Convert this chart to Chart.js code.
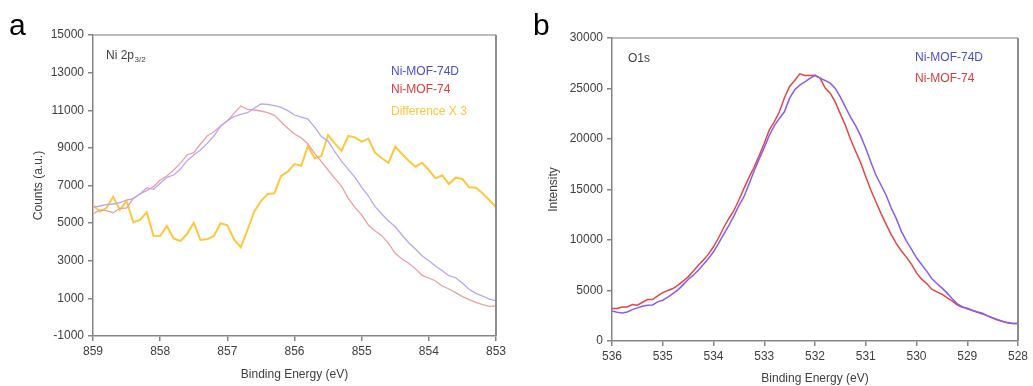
<!DOCTYPE html>
<html>
<head>
<meta charset="utf-8">
<script src="https://cdn.jsdelivr.net/npm/chart.js@4"></script>
<style>
  html, body { margin: 0; padding: 0; background: #fff; }
  #wrap { position: relative; width: 1033px; height: 386px; overflow: hidden; }
  canvas { position: absolute; top: 0; }
  #chartA { left: 0; }
  #chartB { left: 515px; }
</style>
</head>
<body>
<div id="wrap">
  <canvas id="chartA" width="515" height="386"></canvas>
  <canvas id="chartB" width="518" height="386"></canvas>
</div>
<script>
// ---- panel a: Ni 2p3/2 ----
const niEnergy = [
  859.0, 858.9, 858.8, 858.7, 858.6, 858.5, 858.4, 858.3, 858.2, 858.1,
  858.0, 857.9, 857.8, 857.7, 857.6, 857.5, 857.4, 857.3, 857.2, 857.1,
  857.0, 856.9, 856.8, 856.7, 856.6, 856.5, 856.4, 856.3, 856.2, 856.1,
  856.0, 855.9, 855.8, 855.7, 855.6, 855.5, 855.4, 855.3, 855.2, 855.1,
  855.0, 854.9, 854.8, 854.7, 854.6, 854.5, 854.4, 854.3, 854.2, 854.1,
  854.0, 853.9, 853.8, 853.7, 853.6, 853.5, 853.4, 853.3, 853.2, 853.1,
  853.0
];
const niMof74D = [
  5840, 5910, 5980, 6016, 6087, 6229, 6300, 6548, 6885, 6797,
  7116, 7435, 7557, 7860, 8320, 8621, 8887, 9241, 9631, 10162,
  10445, 10658, 10782, 10870, 11103, 11332, 11315, 11244, 11155, 10977,
  10747, 10640, 10530, 10100, 9600, 9350, 8800, 8300, 7860, 7435,
  6903, 6441, 5873, 5484, 5112, 4809, 4368, 3959, 3624, 3268,
  3002, 2720, 2470, 2204, 2098, 1800, 1481, 1268, 1125, 966,
  876
];
const niMof74 = [
  5484, 5697, 5660, 5554, 5787, 5803, 6319, 6548, 6725, 6938,
  7292, 7505, 7823, 8178, 8621, 8745, 9206, 9631, 9861, 10162,
  10445, 10835, 11226, 11050, 11013, 10960, 10870, 10731, 10391, 10040,
  9737, 9541, 9206, 8711, 8266, 7823, 7380, 6973, 6319, 5840,
  5431, 4900, 4581, 4332, 3927, 3395, 3092, 2863, 2580, 2225,
  2082, 1923, 1657, 1497, 1303, 1090, 930, 790, 665, 577,
  594
];
const niDiffX3 = [
  5950, 5620, 5800, 6400, 5700, 6190, 5043, 5166, 5574, 4331,
  4315, 4847, 4190, 4049, 4421, 5022, 4102, 4138, 4315, 4990,
  4883, 4138, 3713, 4634, 5607, 6176, 6548, 6585, 7505, 7735,
  8142, 8050, 9099, 8445, 8567, 9684, 9241, 8833, 9631, 9560,
  9329, 9488, 8745, 8445, 8211, 9063, 8674, 8320, 8000, 8211,
  7823, 7380, 7540, 7079, 7415, 7345, 6903, 6885, 6584, 6229,
  5840
];

// ---- panel b: O1s ----
const oEnergy = [
  536.0, 535.9, 535.8, 535.7, 535.6, 535.5, 535.4, 535.3, 535.2, 535.1,
  535.0, 534.9, 534.8, 534.7, 534.6, 534.5, 534.4, 534.3, 534.2, 534.1,
  534.0, 533.9, 533.8, 533.7, 533.6, 533.5, 533.4, 533.3, 533.2, 533.1,
  533.0, 532.9, 532.8, 532.7, 532.6, 532.5, 532.4, 532.3, 532.2, 532.1,
  532.0, 531.9, 531.8, 531.7, 531.6, 531.5, 531.4, 531.3, 531.2, 531.1,
  531.0, 530.9, 530.8, 530.7, 530.6, 530.5, 530.4, 530.3, 530.2, 530.1,
  530.0, 529.9, 529.8, 529.7, 529.6, 529.5, 529.4, 529.3, 529.2, 529.1,
  529.0, 528.9, 528.8, 528.7, 528.6, 528.5, 528.4, 528.3, 528.2, 528.1,
  528.0
];
const oMof74D = [
  2978, 2846, 2780, 2879, 3111, 3276, 3441, 3540, 3573, 3871,
  4037, 4334, 4698, 5061, 5558, 6087, 6517, 7013, 7575, 8170,
  8832, 9659, 10551, 11411, 12370, 13395, 14288, 15545, 16835, 18025,
  19150, 20373, 21332, 22060, 22721, 24044, 24871, 25334, 25664, 25995,
  26293, 26028, 25797, 25532, 25003, 24143, 23151, 22159, 21332, 20307,
  19083, 17727, 16438, 15446, 14454, 13197, 12139, 10882, 9923, 9096,
  8236, 7575, 6914, 6186, 5690, 5260, 4764, 4202, 3706, 3408,
  3176, 3011, 2879, 2747, 2483, 2284, 2119, 1953, 1821, 1722,
  1722
];
const oMof74 = [
  3210, 3210, 3375, 3375, 3606, 3540, 3838, 4102, 4102, 4466,
  4797, 4995, 5194, 5525, 5922, 6352, 6914, 7509, 8005, 8600,
  9328, 10221, 11213, 12106, 12899, 13958, 15115, 16206, 17198, 18356,
  19580, 20902, 21729, 22721, 24110, 25201, 25797, 26458, 26293, 26293,
  26300, 26028, 25036, 24540, 23647, 22490, 21332, 19976, 18786, 17661,
  16273, 14950, 13792, 12635, 11577, 10551, 9659, 8931, 8303, 7608,
  6748, 6120, 5690, 5128, 4863, 4632, 4301, 3971, 3574, 3342,
  3243, 3045, 2846, 2681, 2483, 2284, 2086, 1920, 1788, 1722,
  1722
];

const FONT = "'Liberation Sans', Arial, sans-serif";
const TEXT = '#404040';
const AXIS = '#858585';

const pts = (xs, ys) => xs.map((x, i) => ({ x: x, y: ys[i] }));

// frame, panel letter, inner label and coloured legend text
const panelDeco = {
  id: 'panelDeco',
  afterDraw(chart, args, opts) {
    const ctx = chart.ctx;
    const a = chart.chartArea;
    ctx.save();
    ctx.strokeStyle = '#a6a6a6';
    ctx.lineWidth = 1.5;
    ctx.beginPath();
    ctx.moveTo(a.left, a.top);
    ctx.lineTo(a.right, a.top);
    ctx.stroke();
    ctx.strokeStyle = '#8c8c8c';
    ctx.lineWidth = 2;
    ctx.beginPath();
    ctx.moveTo(a.right, a.top);
    ctx.lineTo(a.right, a.bottom);
    ctx.stroke();

    ctx.fillStyle = '#000';
    ctx.textBaseline = 'alphabetic';
    ctx.font = '30px ' + FONT;
    ctx.fillText(opts.letter, opts.letterX, opts.letterY);

    ctx.fillStyle = TEXT;
    ctx.font = '12px ' + FONT;
    ctx.fillText(opts.label, opts.labelX, opts.labelY);
    if (opts.sub) {
      const w = ctx.measureText(opts.label).width;
      ctx.font = '8px ' + FONT;
      ctx.fillText(opts.sub, opts.labelX + w + 0.5, opts.labelY + 3);
    }

    ctx.font = '12px ' + FONT;
    ctx.textBaseline = 'middle';
    chart.data.datasets.forEach((ds, i) => {
      ctx.fillStyle = ds.textColor;
      ctx.fillText(ds.label, opts.legendX, opts.legendY[i]);
    });
    ctx.restore();
  }
};

function xAxis(min, max, h, titlePad) {
  return {
    type: 'linear', reverse: true, min: min, max: max,
    ticks: { stepSize: 1, color: TEXT, font: { family: FONT, size: 12 }, padding: 3,
             callback: v => String(v) },
    grid: { drawOnChartArea: false, drawTicks: true, tickLength: 5, color: AXIS, lineWidth: 1.5 },
    border: { color: AXIS, width: 1.5 },
    title: { display: true, text: 'Binding Energy (eV)', color: TEXT,
             font: { family: FONT, size: 12 }, padding: { top: 0, bottom: titlePad } },
    afterFit: s => { s.height = h; }
  };
}

function yAxis(min, max, step, w, title) {
  return {
    min: min, max: max,
    ticks: { stepSize: step, color: TEXT, font: { family: FONT, size: 12 }, padding: 4,
             callback: v => String(v) },
    grid: { drawOnChartArea: false, drawTicks: true, tickLength: 5, color: AXIS, lineWidth: 1.5 },
    border: { color: AXIS, width: 1.5 },
    title: { display: true, text: title, color: TEXT,
             font: { family: FONT, size: 12 }, padding: { top: 31, bottom: 0 } },
    afterFit: s => { s.width = w; }
  };
}

const lineDefaults = { pointRadius: 0, tension: 0, fill: false };

new Chart(document.getElementById('chartA'), {
  type: 'line',
  data: {
    datasets: [
      Object.assign({ label: 'Ni-MOF-74D', data: pts(niEnergy, niMof74D),
        borderColor: '#b9a5f6', borderWidth: 1.3, textColor: '#4b4bdc' }, lineDefaults),
      Object.assign({ label: 'Ni-MOF-74', data: pts(niEnergy, niMof74),
        borderColor: '#e9a2a2', borderWidth: 1.3, textColor: '#e03a3a' }, lineDefaults),
      Object.assign({ label: 'Difference X 3', data: pts(niEnergy, niDiffX3),
        borderColor: '#ffc83c', borderWidth: 2, textColor: '#ffc63a' }, lineDefaults)
    ]
  },
  options: {
    responsive: false,
    animation: false,
    layout: { padding: { top: 35, right: 19, left: 0, bottom: 0 } },
    plugins: {
      legend: { display: false },
      tooltip: { enabled: false },
      panelDeco: { letter: 'a', letterX: 9, letterY: 35,
        label: 'Ni 2p', sub: '3/2', labelX: 106, labelY: 59,
        legendX: 391, legendY: [72, 90, 112] }
    },
    scales: {
      x: xAxis(853, 859, 50, 4),
      y: yAxis(-1000, 15000, 2000, 93, 'Counts (a.u.)')
    }
  },
  plugins: [panelDeco]
});

new Chart(document.getElementById('chartB'), {
  type: 'line',
  data: {
    datasets: [
      Object.assign({ label: 'Ni-MOF-74D', data: pts(oEnergy, oMof74D),
        borderColor: '#8a5cf3', borderWidth: 1.5, textColor: '#4b4bdc' }, lineDefaults),
      Object.assign({ label: 'Ni-MOF-74', data: pts(oEnergy, oMof74),
        borderColor: '#e04848', borderWidth: 1.5, textColor: '#e03a3a' }, lineDefaults)
    ]
  },
  options: {
    responsive: false,
    animation: false,
    layout: { padding: { top: 38, right: 15, left: 0, bottom: 0 } },
    plugins: {
      legend: { display: false },
      tooltip: { enabled: false },
      panelDeco: { letter: 'b', letterX: 18, letterY: 35,
        label: 'O1s', labelX: 113, labelY: 62,
        legendX: 400, legendY: [58, 79] }
    },
    scales: {
      x: xAxis(528, 536, 45, 0),
      y: yAxis(0, 30000, 5000, 97, 'Intensity')
    }
  },
  plugins: [panelDeco]
});
</script>
</body>
</html>
